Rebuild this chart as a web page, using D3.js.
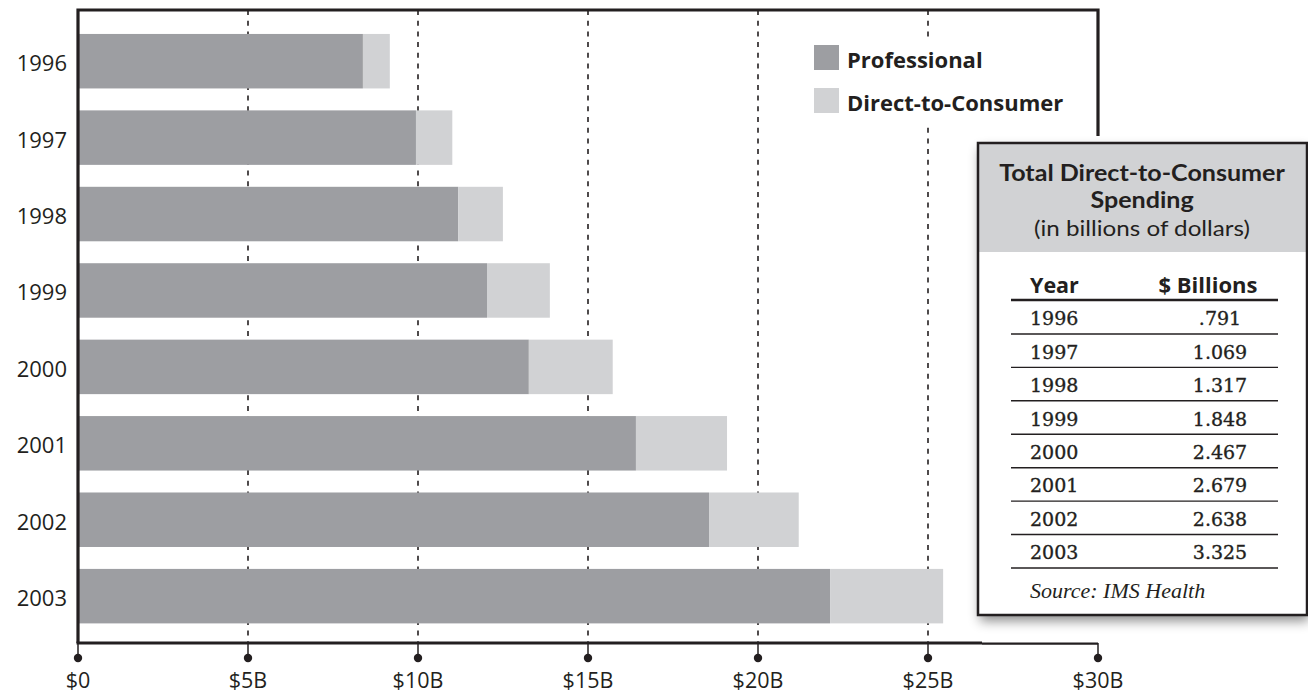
<!DOCTYPE html>
<html>
<head>
<meta charset="utf-8">
<script src="https://cdn.jsdelivr.net/npm/d3@7"></script>
<style>
  html, body { margin: 0; padding: 0; background: #fff; }
  svg { display: block; }
</style>
</head>
<body>
<svg id="chart" width="1308" height="692"></svg>
<script>
// Promotional spending by year, in billions of dollars
const years = ["1996", "1997", "1998", "1999", "2000", "2001", "2002", "2003"];
const professional = [8.38, 9.94, 11.18, 12.03, 13.26, 16.41, 18.56, 22.12];
const directToConsumer = [0.791, 1.069, 1.317, 1.848, 2.467, 2.679, 2.638, 3.325];
const dtcLabels = [".791", "1.069", "1.317", "1.848", "2.467", "2.679", "2.638", "3.325"];
const xTicks = [0, 5, 10, 15, 20, 25, 30];
const xTickLabels = ["$0", "$5B", "$10B", "$15B", "$20B", "$25B", "$30B"];
const seriesNames = ["Professional", "Direct-to-Consumer"];
const seriesColors = ["#9d9ea2", "#d1d2d4"];
const panelTitle = ["Total Direct-to-Consumer", "Spending"];
const panelSubtitle = "(in billions of dollars)";

const svg = d3.select("#chart");
const ink = "#231f20";
const sans = "'Open Sans', 'Noto Sans', sans-serif";
const headSans = "Lato, 'Open Sans', sans-serif";
const serif = "'DejaVu Serif', 'Liberation Serif', serif";

const plotLeft = 78, plotRight = 1098, plotTop = 10, plotBottom = 643;

const x = d3.scaleLinear().domain([0, 30]).range([plotLeft, plotRight]);
const y = d3.scaleBand().domain(years).range([plotTop, plotBottom])
  .paddingInner(0.287).paddingOuter(0.285).align(0.55);

// dashed vertical guides
svg.append("g").selectAll("line")
  .data(xTicks.filter(t => t > 0 && t < 30))
  .join("line")
  .attr("x1", d => x(d)).attr("x2", d => x(d))
  .attr("y1", plotTop).attr("y2", plotBottom)
  .attr("stroke", ink).attr("stroke-width", 1.6)
  .attr("stroke-dasharray", "5,5.7");

// stacked bars
const rows = years.map((yr, i) => ({ year: yr, p: professional[i], d: directToConsumer[i] }));
const bars = svg.append("g");
bars.selectAll("rect.pro").data(rows).join("rect")
  .attr("class", "pro")
  .attr("x", x(0)).attr("y", d => y(d.year))
  .attr("width", d => x(d.p) - x(0)).attr("height", y.bandwidth())
  .attr("fill", seriesColors[0]);
bars.selectAll("rect.dtc").data(rows).join("rect")
  .attr("class", "dtc")
  .attr("x", d => x(d.p)).attr("y", d => y(d.year))
  .attr("width", d => x(d.p + d.d) - x(d.p)).attr("height", y.bandwidth())
  .attr("fill", seriesColors[1]);

// year labels
svg.append("g").selectAll("text").data(years).join("text")
  .attr("x", 67).attr("y", d => y(d) + y.bandwidth() / 2 + 1)
  .attr("text-anchor", "end").attr("dominant-baseline", "central")
  .attr("font-family", sans).attr("font-size", 22).attr("fill", ink)
  .text(d => d);

// frame
const frame = svg.append("g").attr("fill", "none").attr("stroke", ink);
frame.append("path")
  .attr("d", `M${plotLeft},${plotBottom} L${plotLeft},${plotTop} L${plotRight},${plotTop} L${plotRight},136`)
  .attr("stroke-width", 3.2);
frame.append("line").attr("x1", plotLeft - 1.5).attr("x2", 982)
  .attr("y1", plotBottom).attr("y2", plotBottom).attr("stroke-width", 3.2);
frame.append("line").attr("x1", 982).attr("x2", plotRight)
  .attr("y1", plotBottom + 0.6).attr("y2", plotBottom + 0.6).attr("stroke-width", 2.2);

// x axis: stems, dots and labels
const axis = svg.append("g");
axis.selectAll("line").data(xTicks).join("line")
  .attr("x1", d => x(d)).attr("x2", d => x(d))
  .attr("y1", plotBottom).attr("y2", 656)
  .attr("stroke", ink).attr("stroke-width", 1.5);
axis.selectAll("circle").data(xTicks).join("circle")
  .attr("cx", d => x(d)).attr("cy", 658).attr("r", 4.2).attr("fill", ink);
axis.selectAll("text").data(xTicks).join("text")
  .attr("x", d => x(d)).attr("y", 679)
  .attr("text-anchor", "middle").attr("dominant-baseline", "central")
  .attr("font-family", sans).attr("font-size", 21.5).attr("fill", ink)
  .text((d, i) => xTickLabels[i]);

// legend
const legend = svg.append("g");
legend.append("rect").attr("x", 800).attr("y", 37).attr("width", 285).attr("height", 88).attr("fill", "#fff");
seriesNames.forEach((name, i) => {
  const ly = 45 + i * 43;
  legend.append("rect").attr("x", 814).attr("y", ly).attr("width", 25).attr("height", 25)
    .attr("fill", seriesColors[i]);
  legend.append("text").attr("x", 847).attr("y", ly + 13.5)
    .attr("dominant-baseline", "central")
    .attr("font-family", sans).attr("font-size", 22).attr("font-weight", 700).attr("fill", ink)
    .text(name);
});

// data table panel
const defs = svg.append("defs");
const shadow = defs.append("filter").attr("id", "panelShadow")
  .attr("x", "-10%").attr("y", "-10%").attr("width", "130%").attr("height", "130%");
shadow.append("feDropShadow").attr("dx", 2).attr("dy", 6).attr("stdDeviation", 6)
  .attr("flood-color", "#000").attr("flood-opacity", 0.45);

const bx = 978, by = 143, bw = 329, bh = 472;
const panel = svg.append("g");
panel.append("rect").attr("x", bx).attr("y", by).attr("width", bw).attr("height", bh)
  .attr("fill", "#fff").attr("filter", "url(#panelShadow)");
panel.append("rect").attr("x", bx).attr("y", by).attr("width", bw).attr("height", 109)
  .attr("fill", "#d1d2d4");
panel.append("rect").attr("x", bx).attr("y", by).attr("width", bw).attr("height", bh)
  .attr("fill", "none").attr("stroke", ink).attr("stroke-width", 2.5);

// panel heading: a compact face, widened, keeps the tight three-line leading
const cx = 1142;
const headLines = [
  { text: panelTitle[0], y: 173, weight: 700, sx: 1.14 },
  { text: panelTitle[1], y: 200, weight: 700, sx: 1.14 },
  { text: panelSubtitle, y: 227, weight: 400, sx: 1.1 }
];
panel.append("g").selectAll("text").data(headLines).join("text")
  .attr("transform", d => `translate(${cx},0) scale(${d.sx},1)`)
  .attr("x", 0).attr("y", d => d.y)
  .attr("text-anchor", "middle").attr("dominant-baseline", "central")
  .attr("font-family", headSans).attr("font-size", 22).attr("font-weight", d => d.weight)
  .attr("fill", ink).text(d => d.text);

panel.append("text").attr("x", 1030).attr("y", 284).attr("dominant-baseline", "central")
  .attr("font-family", sans).attr("font-size", 21.5).attr("font-weight", 700).attr("fill", ink)
  .text("Year");
panel.append("text").attr("x", 1208).attr("y", 284).attr("text-anchor", "middle")
  .attr("dominant-baseline", "central")
  .attr("font-family", sans).attr("font-size", 22).attr("font-weight", 700).attr("fill", ink)
  .text("$ Billions");
panel.append("line").attr("x1", 1011).attr("x2", 1278).attr("y1", 300).attr("y2", 300)
  .attr("stroke", ink).attr("stroke-width", 2.5);

const rowY = d3.scaleBand().domain(years).range([300.5, 568]);
const tRows = panel.append("g");
tRows.selectAll("text.yr").data(years).join("text").attr("class", "yr")
  .attr("x", 1030).attr("y", d => rowY(d) + rowY.bandwidth() / 2 + 1)
  .attr("dominant-baseline", "central")
  .attr("font-family", serif).attr("font-size", 19).attr("fill", ink)
  .attr("stroke", ink).attr("stroke-width", 0.35).text(d => d);
tRows.selectAll("text.val").data(years).join("text").attr("class", "val")
  .attr("x", 1220).attr("y", d => rowY(d) + rowY.bandwidth() / 2 + 1)
  .attr("text-anchor", "middle").attr("dominant-baseline", "central")
  .attr("font-family", serif).attr("font-size", 19).attr("fill", ink)
  .attr("stroke", ink).attr("stroke-width", 0.35)
  .text((d, i) => dtcLabels[i]);
tRows.selectAll("line").data(years).join("line")
  .attr("x1", 1011).attr("x2", 1278)
  .attr("y1", d => rowY(d) + rowY.bandwidth()).attr("y2", d => rowY(d) + rowY.bandwidth())
  .attr("stroke", ink).attr("stroke-width", 1.4);

panel.append("text").attr("x", 1030).attr("y", 590).attr("dominant-baseline", "central")
  .attr("font-family", "'Liberation Serif', serif").attr("font-style", "italic")
  .attr("font-size", 22).attr("fill", ink).text("Source: IMS Health");
</script>
</body>
</html>
